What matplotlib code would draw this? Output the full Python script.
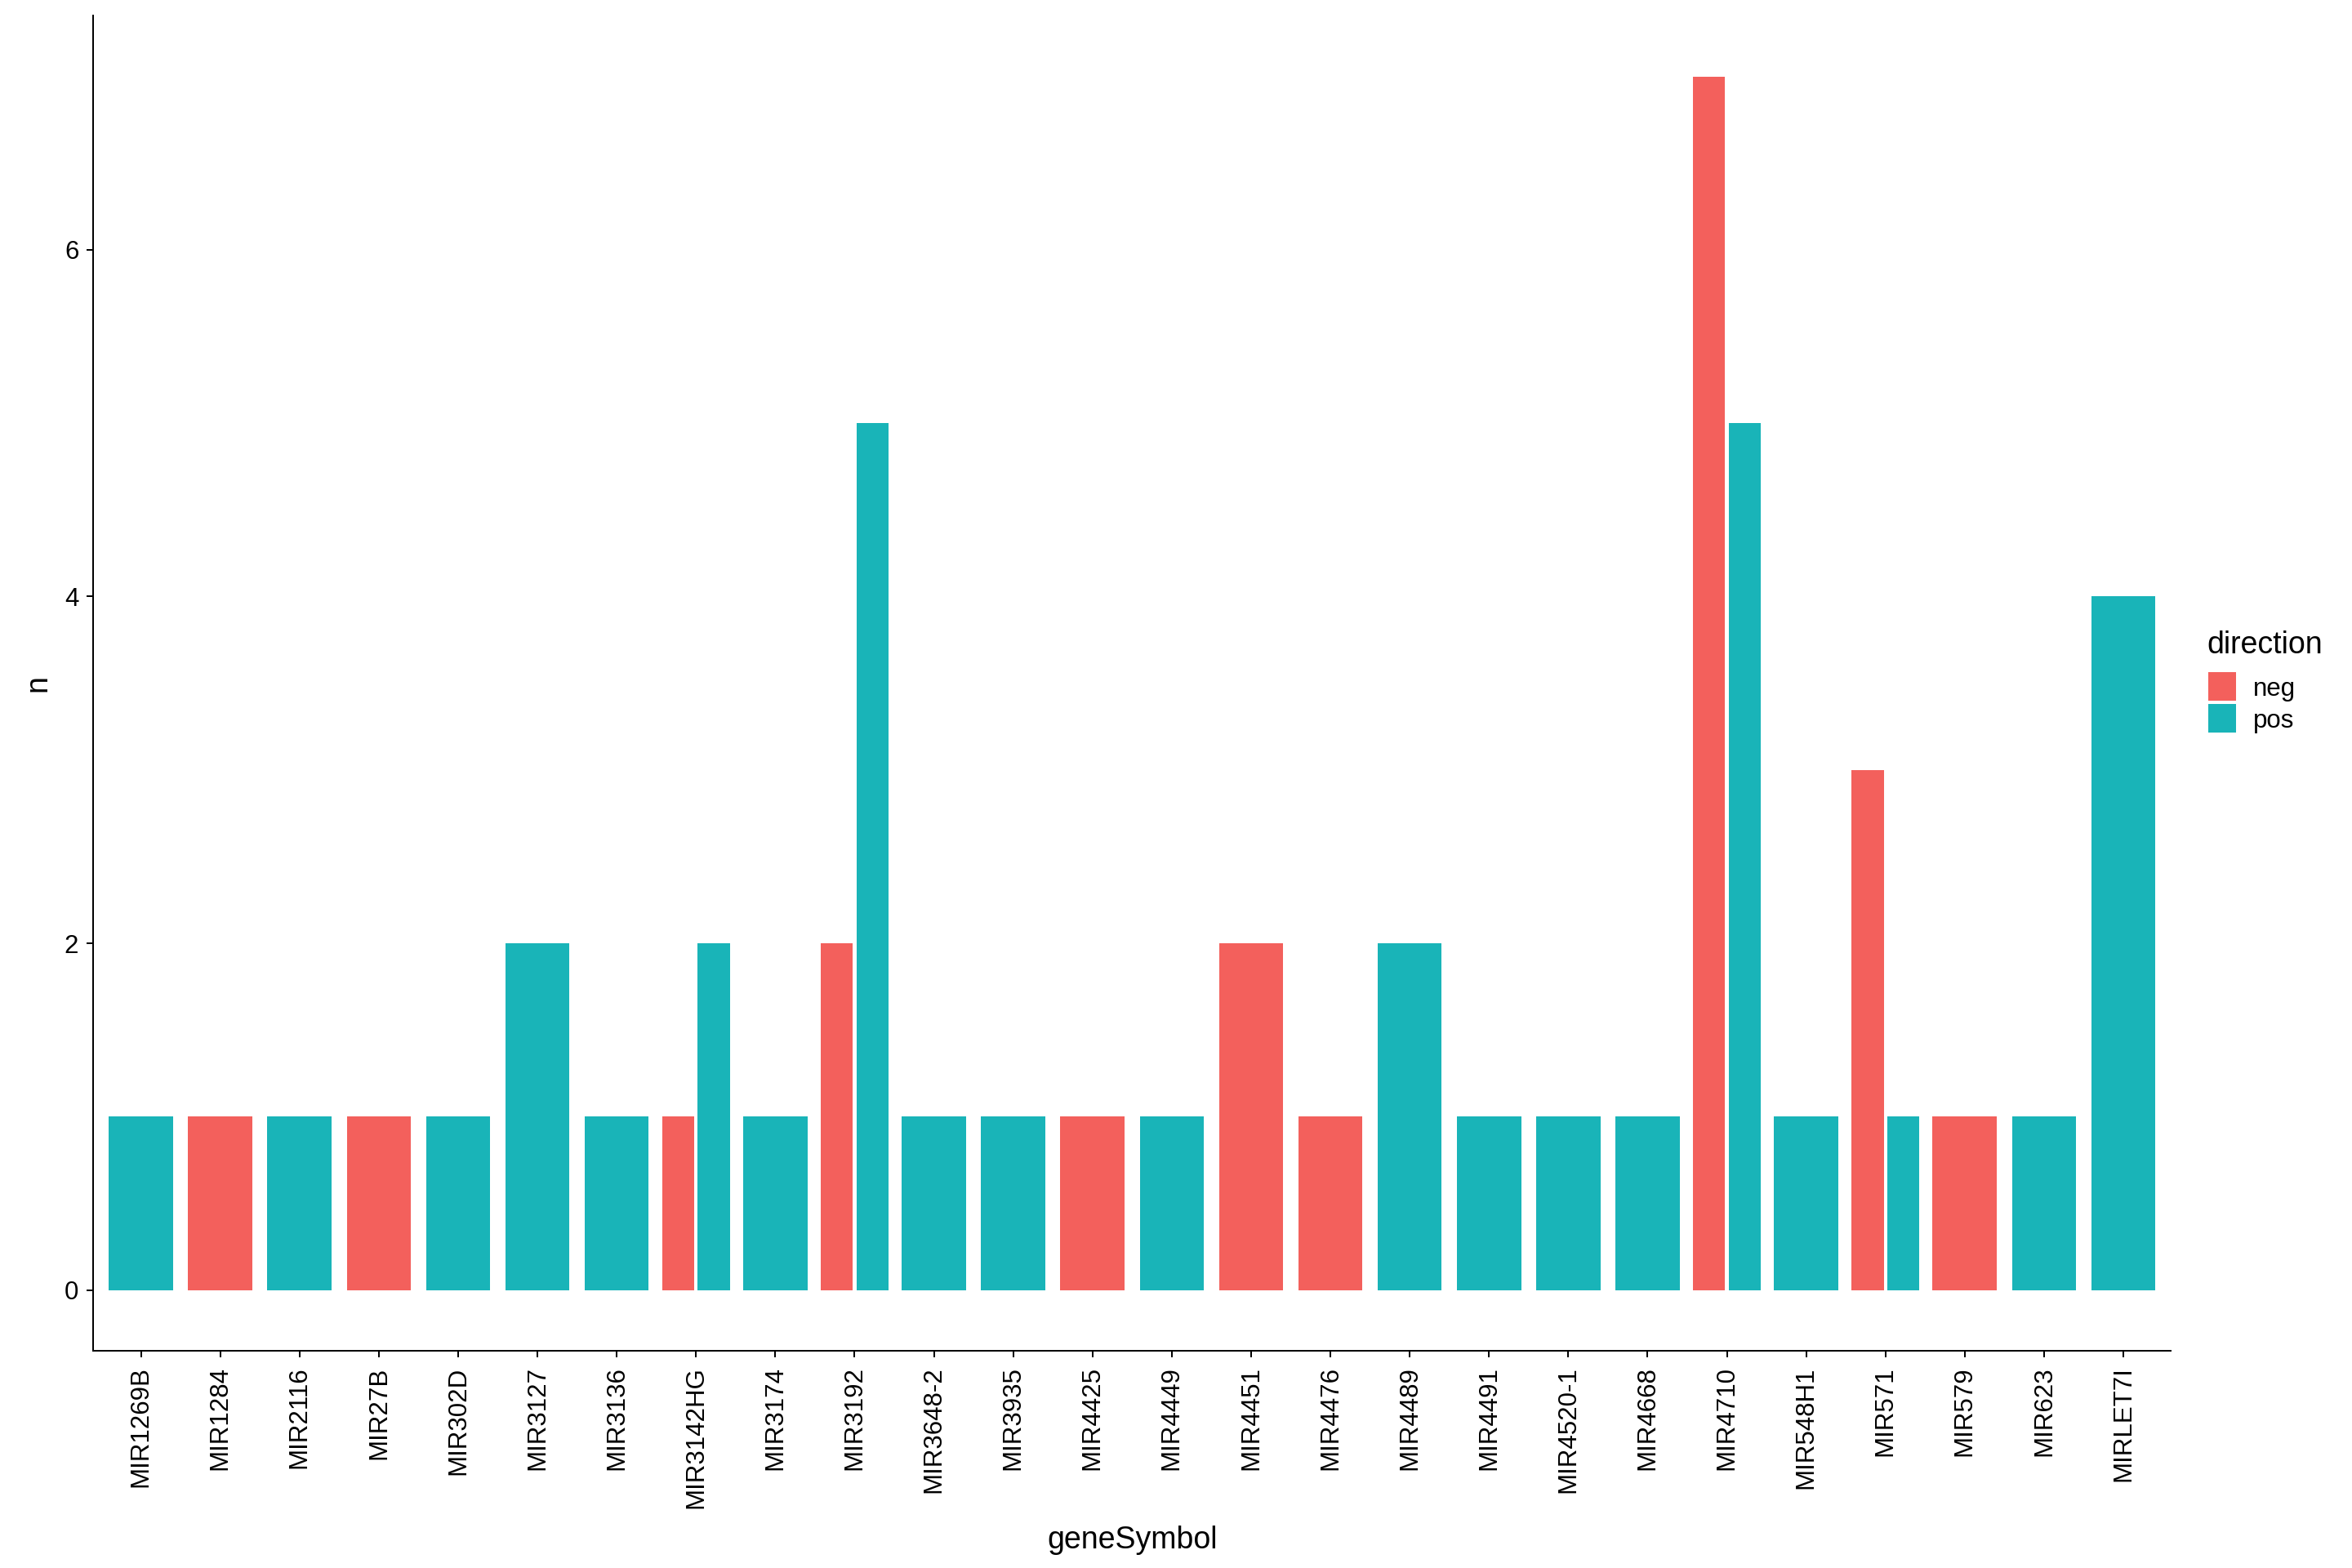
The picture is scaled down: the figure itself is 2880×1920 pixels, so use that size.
import numpy as np
import matplotlib
matplotlib.use("Agg")
import matplotlib.pyplot as plt
from matplotlib.patches import Rectangle

plt.rcParams["font.family"] = ["Liberation Sans", "DejaVu Sans"]

genes = ["MIR1269B", "MIR1284", "MIR2116", "MIR27B", "MIR302D", "MIR3127",
         "MIR3136", "MIR3142HG", "MIR3174", "MIR3192", "MIR3648-2", "MIR3935",
         "MIR4425", "MIR4449", "MIR4451", "MIR4476", "MIR4489", "MIR4491",
         "MIR4520-1", "MIR4668", "MIR4710", "MIR548H1", "MIR571", "MIR579",
         "MIR623", "MIRLET7I"]
# counts per direction, 0 = no bar
neg = [0, 1, 0, 1, 0, 0, 0, 1, 0, 2, 0, 0, 1, 0, 2, 1, 0, 0, 0, 0, 7, 0, 3, 1, 0, 0]
pos = [1, 0, 1, 0, 1, 2, 1, 2, 1, 5, 1, 1, 0, 1, 0, 0, 2, 1, 1, 1, 5, 1, 1, 0, 1, 4]
directions = ["neg", "pos"]

col_neg = "#F3605C"
col_pos = "#19B4B8"

fig = plt.figure(figsize=(16, 10.6667), dpi=180)
ax = fig.add_axes([0.0397, 0.1385, 0.8833, 0.8515])

# dodge2-like placement: full width if one group, split if two
for i, g in enumerate(genes):
    x = i + 1
    vals = [(neg[i], col_neg), (pos[i], col_pos)]
    present = [v for v in vals if v[0] > 0]
    if len(present) == 1:
        ax.bar(x, present[0][0], width=0.81, color=present[0][1], linewidth=0)
    else:
        for k, (v, c) in enumerate(present):
            ax.bar(x + (k - 0.5) * 0.45, v, width=0.405, color=c, linewidth=0)

ax.set_xlim(0.4, len(genes) + 0.6)
ax.set_ylim(-0.35, 7.35)
ax.set_xticks(np.arange(1, len(genes) + 1))
ax.set_xticklabels(genes, rotation=90, ha="center", va="top")
ax.set_yticks([0, 2, 4, 6])

for s in ["top", "right"]:
    ax.spines[s].set_visible(False)
for s in ["left", "bottom"]:
    ax.spines[s].set_linewidth(0.8)
ax.tick_params(axis="both", length=3.2, width=0.8, labelsize=12.5, colors="black")
ax.tick_params(axis="x", pad=4.5)
ax.tick_params(axis="y", pad=4)

ax.set_xlabel("geneSymbol", fontsize=15)
ax.set_ylabel("n", fontsize=15)
ax.xaxis.set_label_coords(0.5, -0.131)
ax.yaxis.set_label_coords(-0.0195, 0.5)

# legend drawn by hand, ggplot-style
W, H = 2880.0, 1920.0
fig.text(2702 / W, 1 - 800 / H, "direction", fontsize=15, ha="left", va="baseline")
key_top = [823, 862]
for d, c, top in zip(directions, [col_neg, col_pos], key_top):
    fig.add_artist(Rectangle((2704 / W, 1 - (top + 35) / H), 34 / W, 35 / H,
                             transform=fig.transFigure, color=c, linewidth=0))
    fig.text(2759 / W, 1 - (top + 17.5) / H, d, fontsize=12.5, ha="left", va="center_baseline")

fig.savefig("out.png", dpi=180)
